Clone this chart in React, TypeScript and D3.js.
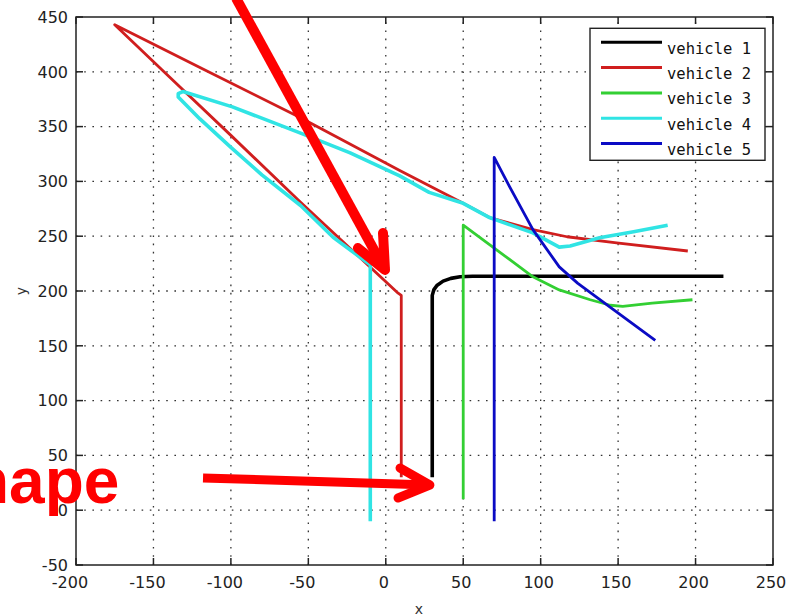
import React from 'react';
import * as d3 from 'd3';

const W = 789;
const H = 616;

const xTicks = [-200, -150, -100, -50, 0, 50, 100, 150, 200, 250];
const yTicks = [-50, 0, 50, 100, 150, 200, 250, 300, 350, 400, 450];

const vehicleNames = ['vehicle 1', 'vehicle 2', 'vehicle 3', 'vehicle 4', 'vehicle 5'];
const vehicleColors = ['#000000', '#d01e1e', '#33cf33', '#30e4e4', '#0b0bc4'];
const vehicleWidths = [3.6, 2.8, 2.8, 3.6, 2.8];

const v1X = [30, 30, 31, 33, 37, 42, 48, 56, 218];
const v1Y = [30, 196, 201, 205, 209, 211.5, 213, 213.5, 213.5];

const v2X = [10, 10, 8, -55, -100, -141, -175, -120, -55, 9, 50, 67, 95, 117, 149, 195];
const v2Y = [30, 196, 198, 281, 342, 397, 443, 404, 358, 310, 280, 267, 256, 249.5, 244, 236.5];

const v3X = [50, 50, 95, 112, 132, 145, 153, 172, 198];
const v3Y = [10, 260, 213, 201, 192, 187, 186, 189, 192];

const v4X = [-10, -10, -12, -34, -55, -80, -100, -120, -134, -134, -131, -99, -55, -23, 9, 28, 50, 67, 95, 112, 119, 138, 160, 182];
const v4Y = [-10, 224, 226, 249, 278, 306, 331, 357, 377, 380, 382, 368, 344, 326, 305, 290, 280, 267, 253, 240, 241, 248.5, 254, 260];

const v5X = [70, 70, 80, 95, 112, 124, 147, 174];
const v5Y = [-10, 322, 295, 256, 222, 207, 183, 155];

const seriesX = [v1X, v2X, v3X, v4X, v5X];
const seriesY = [v1Y, v2Y, v3Y, v4Y, v5Y];

// annotation overlays (in data units)
const arrow1Shaft = [[-96.7, 467.3], [-0.5, 219.2]];
const arrow1Head = [[-18, 239.2], [-0.5, 219.2], [-1.8, 252.9]];
const arrow2Shaft = [[-118, 29.4], [28.5, 23]];
const arrow2Head = [[9.2, 38.5], [28.5, 23], [7.9, 11.1]];
const annotationText = 'Shape';
const annotationPos = [-172, 6.6];

const M = { left: 76, right: 16, top: 17, bottom: 51 };

export default function App() {
  const x = d3.scaleLinear().domain([-200, 250]).range([M.left, W - M.right]);
  const y = d3.scaleLinear().domain([-50, 450]).range([H - M.bottom, M.top]);
  const line = d3.line<number[]>().x(d => x(d[0])).y(d => y(d[1]));
  const x0 = x(-200), x1 = x(250), y0 = y(-50), y1 = y(450);
  const tickLen = 7;
  const gridDash = '1.6,6.6';

  const legX = 590, legY = 28.3, legW = 175, legH = 132, rowH = 25.3;

  return (
    <svg width={W} height={H} style={{ position: 'absolute', left: 0, top: 0, background: '#fff' }}>
      <rect x={0} y={0} width={W} height={H} fill="#fff" />
      {/* grid */}
      <g stroke="#333" strokeWidth={1.3} strokeDasharray={gridDash}>
        {xTicks.slice(1, -1).map(t => (
          <line key={'gx' + t} x1={x(t)} x2={x(t)} y1={y0} y2={y1} />
        ))}
        {yTicks.slice(1, -1).map(t => (
          <line key={'gy' + t} x1={x0} x2={x1} y1={y(t)} y2={y(t)} />
        ))}
      </g>
      {/* data */}
      {seriesX.map((xs, i) => (
        <path
          key={'s' + i}
          d={line(xs.map((v, j) => [v, seriesY[i][j]])) || ''}
          fill="none"
          stroke={vehicleColors[i]}
          strokeWidth={vehicleWidths[i]}
          strokeLinejoin="round"
        />
      ))}
      {/* frame */}
      <rect x={x0} y={y1} width={x1 - x0} height={y0 - y1} fill="none" stroke="#222" strokeWidth={1.5} />
      <g stroke="#222" strokeWidth={1.5}>
        {xTicks.map(t => (
          <g key={'tx' + t}>
            <line x1={x(t)} x2={x(t)} y1={y0} y2={y0 - tickLen} />
            <line x1={x(t)} x2={x(t)} y1={y1} y2={y1 + tickLen} />
          </g>
        ))}
        {yTicks.map(t => (
          <g key={'ty' + t}>
            <line x1={x0} x2={x0 + tickLen} y1={y(t)} y2={y(t)} />
            <line x1={x1} x2={x1 - tickLen} y1={y(t)} y2={y(t)} />
          </g>
        ))}
      </g>
      {/* tick labels */}
      <g fontFamily="DejaVu Sans" fontSize={16} fill="#222">
        {xTicks.map(t => (
          <text key={'lx' + t} x={x(t)} dx={t < 0 ? -6 : -2} y={y0 + 23} textAnchor="middle">
            {t < 0 ? '-' + Math.abs(t) : String(t)}
          </text>
        ))}
        {yTicks.map(t => (
          <text key={'ly' + t} x={x0 - 8} y={y(t)} dy="0.36em" textAnchor="end">
            {t < 0 ? '-' + Math.abs(t) : String(t)}
          </text>
        ))}
      </g>
      <text x={419} y={614} fontFamily="DejaVu Sans" fontSize={14} fill="#333" textAnchor="middle">x</text>
      <text
        transform={`translate(26,${(y0 + y1) / 2}) rotate(-90)`}
        fontFamily="DejaVu Sans"
        fontSize={14}
        fill="#333"
        textAnchor="middle"
      >
        y
      </text>
      {/* legend */}
      <g>
        <rect x={legX} y={legY} width={legW} height={legH} fill="#fff" stroke="#222" strokeWidth={1.4} />
        {vehicleNames.map((n, i) => {
          const ly = legY + 14 + i * rowH;
          return (
            <g key={'lg' + i}>
              <line x1={legX + 11} x2={legX + 72} y1={ly} y2={ly} stroke={vehicleColors[i]} strokeWidth={3} />
              <text x={legX + 77} y={ly + 11.5} fontFamily="DejaVu Sans Mono" fontSize={15.5} fill="#111">
                {n}
              </text>
            </g>
          );
        })}
      </g>
      {/* annotations */}
      <g fill="none" stroke="#ff0000" strokeLinecap="round" strokeLinejoin="round">
        <path d={line(arrow1Shaft) || ''} strokeWidth={10} strokeLinecap="butt" />
        <path d={line(arrow1Head) || ''} strokeWidth={10} />
        <path d={line(arrow2Shaft) || ''} strokeWidth={9} strokeLinecap="butt" />
        <path d={line(arrow2Head) || ''} strokeWidth={9} />
      </g>
      <text
        x={x(annotationPos[0])}
        y={y(annotationPos[1])}
        textAnchor="end"
        fontFamily="Liberation Sans"
        fontWeight="bold"
        fontSize={64}
        fill="#ff0000"
      >
        {annotationText}
      </text>
    </svg>
  );
}
